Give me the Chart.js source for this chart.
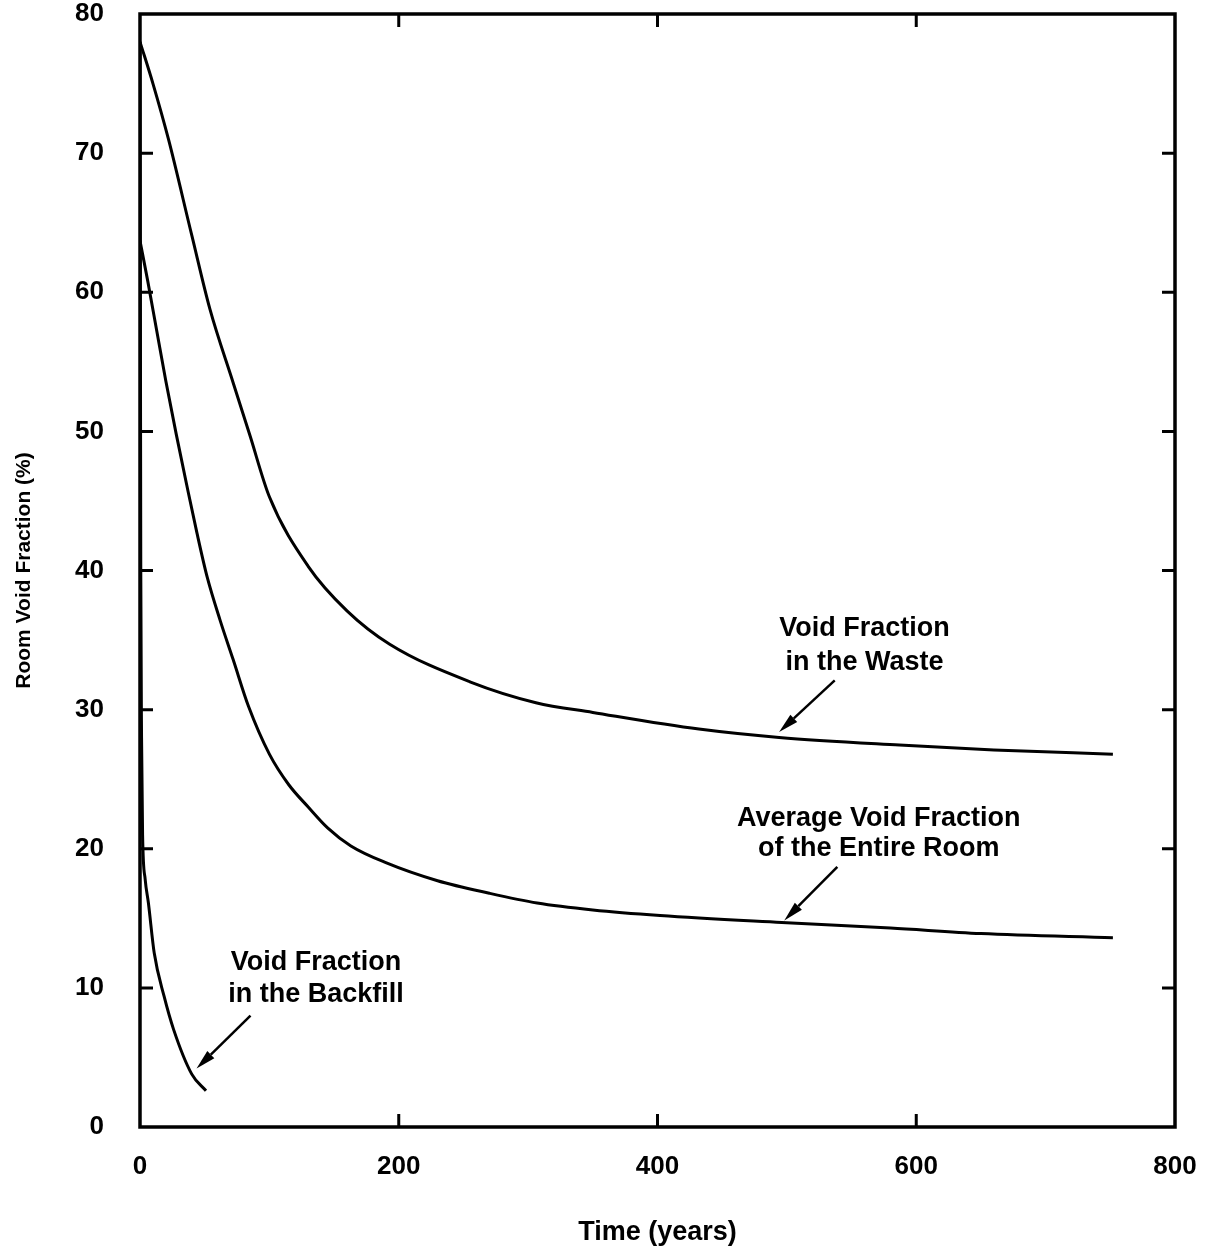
<!DOCTYPE html>
<html><head><meta charset="utf-8">
<script src="https://cdn.jsdelivr.net/npm/chart.js@4.4.1/dist/chart.umd.min.js"></script>
<style>html,body{margin:0;padding:0;background:#fff}#wrap{width:1206px;height:1249px;position:relative}</style>
</head><body><div id="wrap"><canvas id="c"></canvas></div>
<script>
// ---- data ----
const xTickValues = [0, 200, 400, 600, 800];
const yTickValues = [0, 10, 20, 30, 40, 50, 60, 70, 80];

const wasteYears = [0, 10, 22, 40, 54, 72, 85, 100, 130, 160, 193, 255, 306, 350, 432, 494, 587, 660, 752];
const wasteVoid  = [78, 75, 71, 64.1, 58.8, 53.5, 49.7, 45.3, 40.3, 37.1, 34.7, 32.0, 30.5, 29.8, 28.6, 28.0, 27.45, 27.1, 26.8];

const roomYears = [0, 6, 13, 20, 28, 36, 44, 52, 62, 72, 84, 100, 115, 130, 145, 163, 190, 230, 270, 307, 350, 402, 496, 580, 650, 752];
const roomVoid  = [63.7, 60.8, 57.2, 53.6, 49.8, 46.2, 42.7, 39.5, 36.4, 33.6, 30.2, 26.8, 24.6, 23.0, 21.5, 20.2, 19.0, 17.7, 16.8, 16.1, 15.6, 15.2, 14.7, 14.3, 13.9, 13.6];

const backfillYears = [0, 0.6, 1.2, 2, 4, 6.5, 11, 18.6, 26, 40, 51];
const backfillVoid  = [78, 40, 28, 21, 17.8, 16.1, 12.5, 9.4, 7.0, 3.8, 2.6];

const annotationTexts = [
  ["Void Fraction", "in the Waste"],
  ["Average Void Fraction", "of the Entire Room"],
  ["Void Fraction", "in the Backfill"]
];
// ---- layout of annotations (data coordinates) ----
const annotationLayout = [
  {x: 560, y: [35.8, 33.4], tail: [537, 32.1], tip: [494, 28.4]},
  {x: 571, y: [22.2, 20.0], tail: [539, 18.7], tip: [498, 14.85]},
  {x: 136, y: [11.8, 9.5],  tail: [85.4, 8.0], tip: [43.7, 4.2]}
];

const FONT = '"Liberation Sans", Arial, Helvetica, sans-serif';

function pts(xs, ys) { return xs.map((x, i) => ({x: x, y: ys[i]})); }

const framePlugin = {
  id: 'frame',
  beforeDraw(chart) {
    const ctx = chart.ctx;
    ctx.save();
    ctx.fillStyle = '#fff';
    ctx.fillRect(0, 0, chart.width, chart.height);
    ctx.restore();
  },
  afterDatasetsDraw(chart) {
    const ctx = chart.ctx;
    const a = chart.chartArea;
    const xs = chart.scales.x, ys = chart.scales.y;
    ctx.save();
    ctx.strokeStyle = '#000';
    ctx.lineWidth = 3.5;
    ctx.lineCap = 'square';
    ctx.strokeRect(a.left, a.top, a.right - a.left, a.bottom - a.top);
    // inward ticks
    ctx.lineWidth = 3;
    ctx.lineCap = 'butt';
    const tl = 13;
    ctx.beginPath();
    yTickValues.slice(1, -1).forEach(v => {
      const py = ys.getPixelForValue(v);
      ctx.moveTo(a.left, py); ctx.lineTo(a.left + tl, py);
      ctx.moveTo(a.right, py); ctx.lineTo(a.right - tl, py);
    });
    xTickValues.slice(1, -1).forEach(v => {
      const px = xs.getPixelForValue(v);
      ctx.moveTo(px, a.top); ctx.lineTo(px, a.top + tl);
      ctx.moveTo(px, a.bottom); ctx.lineTo(px, a.bottom - tl);
    });
    ctx.stroke();
    // annotations
    ctx.fillStyle = '#000';
    ctx.font = 'bold 27px ' + FONT;
    ctx.textAlign = 'center';
    ctx.textBaseline = 'middle';
    annotationLayout.forEach((L, i) => {
      const px = xs.getPixelForValue(L.x);
      annotationTexts[i].forEach((t, j) => {
        ctx.fillText(t, px, ys.getPixelForValue(L.y[j]));
      });
      const x1 = xs.getPixelForValue(L.tail[0]), y1 = ys.getPixelForValue(L.tail[1]);
      const x2 = xs.getPixelForValue(L.tip[0]), y2 = ys.getPixelForValue(L.tip[1]);
      const ang = Math.atan2(y2 - y1, x2 - x1);
      const hl = 20, hw = 5;
      const bx = x2 - hl * Math.cos(ang), by = y2 - hl * Math.sin(ang);
      ctx.lineWidth = 2.5;
      ctx.beginPath();
      ctx.moveTo(x1, y1); ctx.lineTo(bx, by);
      ctx.stroke();
      ctx.beginPath();
      ctx.moveTo(x2, y2);
      ctx.lineTo(bx + hw * Math.sin(ang), by - hw * Math.cos(ang));
      ctx.lineTo(bx - hw * Math.sin(ang), by + hw * Math.cos(ang));
      ctx.closePath();
      ctx.fill();
    });
    ctx.restore();
  }
};

const lineStyle = {showLine: true, pointRadius: 0, borderColor: '#000', borderWidth: 3, fill: false, cubicInterpolationMode: 'monotone'};

function zeroPad(s) { s.paddingTop = 0; s.paddingBottom = 0; s.paddingLeft = 0; s.paddingRight = 0; }

new Chart(document.getElementById('c'), {
  type: 'scatter',
  data: {
    datasets: [
      Object.assign({label: 'Void Fraction in the Waste', data: pts(wasteYears, wasteVoid)}, lineStyle),
      Object.assign({label: 'Average Void Fraction of the Entire Room', data: pts(roomYears, roomVoid)}, lineStyle),
      Object.assign({label: 'Void Fraction in the Backfill', data: pts(backfillYears, backfillVoid)}, lineStyle)
    ]
  },
  options: {
    responsive: true,
    maintainAspectRatio: false,
    animation: false,
    layout: {padding: {top: 14, right: 31, left: 0, bottom: 0}},
    plugins: {legend: {display: false}, tooltip: {enabled: false}},
    scales: {
      x: {
        type: 'linear', min: 0, max: 800,
        afterBuildTicks: s => { s.ticks = xTickValues.map(v => ({value: v})); },
        afterFit: s => { s.height = 122; zeroPad(s); },
        grid: {display: false, drawTicks: false},
        border: {display: false},
        ticks: {color: '#000', padding: 24, font: {family: FONT, size: 26, weight: 'bold'}, maxRotation: 0},
        title: {display: true, text: 'Time (years)', color: '#000', padding: {top: 0, bottom: 0}, font: {family: FONT, size: 27, weight: 'bold'}}
      },
      y: {
        type: 'linear', min: 0, max: 80,
        afterBuildTicks: s => { s.ticks = yTickValues.map(v => ({value: v})); },
        afterFit: s => { s.width = 140; zeroPad(s); },
        grid: {display: false, drawTicks: false},
        border: {display: false},
        ticks: {color: '#000', padding: 36, font: {family: FONT, size: 26, weight: 'bold'}},
        title: {display: true, text: 'Room Void Fraction (%)', color: '#000', padding: {top: 12, bottom: 0}, font: {family: FONT, size: 21, weight: 'bold'}}
      }
    }
  },
  plugins: [framePlugin]
});
</script>
</body></html>
